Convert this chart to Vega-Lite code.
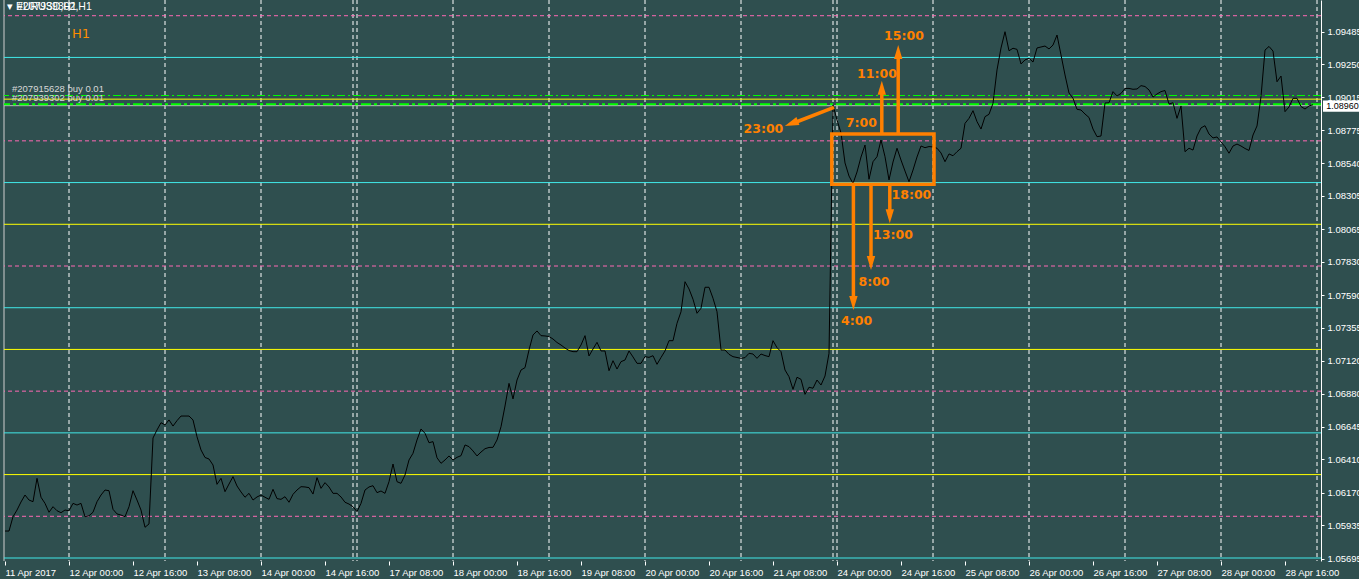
{
 "$schema": "https://vega.github.io/schema/vega-lite/v6.json",
 "width": 1317,
 "height": 561,
 "autosize": {"type": "none"},
 "padding": {"left": 4, "top": 0, "right": 38, "bottom": 18},
 "background": "#2F4F4F",
 "config": {"view": {"stroke": null, "fill": "#2F4F4F"}, "axis": {"labelOverlap": false, "labelBound": false, "labelFlush": false}},
 "datasets": {
  "series": [
   {"bar":0,"price":1.05894},{"bar":1,"price":1.05894},{"bar":2,"price":1.05997},{"bar":3,"price":1.06045},{"bar":4,"price":1.06103},{"bar":5,"price":1.06153},{"bar":6,"price":1.06117},{"bar":7,"price":1.06105},{"bar":8,"price":1.06273},{"bar":9,"price":1.06137},
   {"bar":10,"price":1.06093},{"bar":11,"price":1.06029},{"bar":12,"price":1.06069},{"bar":13,"price":1.0604},{"bar":14,"price":1.06026},{"bar":15,"price":1.06045},{"bar":16,"price":1.0604},{"bar":17,"price":1.06093},{"bar":18,"price":1.06081},{"bar":19,"price":1.06093},
   {"bar":20,"price":1.05997},{"bar":21,"price":1.06004},{"bar":22,"price":1.06029},{"bar":23,"price":1.06105},{"bar":24,"price":1.06153},{"bar":25,"price":1.06189},{"bar":26,"price":1.06184},{"bar":27,"price":1.0605},{"bar":28,"price":1.06017},{"bar":29,"price":1.06009},
   {"bar":30,"price":1.05997},{"bar":31,"price":1.06069},{"bar":32,"price":1.06184},{"bar":33,"price":1.06117},{"bar":34,"price":1.06045},{"bar":35,"price":1.05921},{"bar":36,"price":1.05945},{"bar":37,"price":1.06563},{"bar":38,"price":1.06621},{"bar":39,"price":1.06673},
   {"bar":40,"price":1.06657},{"bar":41,"price":1.06693},{"bar":42,"price":1.06649},{"bar":43,"price":1.06688},{"bar":44,"price":1.06721},{"bar":45,"price":1.06721},{"bar":46,"price":1.06721},{"bar":47,"price":1.06693},{"bar":48,"price":1.06572},{"bar":49,"price":1.06477},
   {"bar":50,"price":1.06423},{"bar":51,"price":1.06412},{"bar":52,"price":1.06369},{"bar":53,"price":1.0623},{"bar":54,"price":1.06273},{"bar":55,"price":1.06177},{"bar":56,"price":1.06232},{"bar":57,"price":1.06285},{"bar":58,"price":1.06218},{"bar":59,"price":1.06175},
   {"bar":60,"price":1.06137},{"bar":61,"price":1.06165},{"bar":62,"price":1.06117},{"bar":63,"price":1.06139},{"bar":64,"price":1.06153},{"bar":65,"price":1.06137},{"bar":66,"price":1.06122},{"bar":67,"price":1.06194},{"bar":68,"price":1.06127},{"bar":69,"price":1.06122},
   {"bar":70,"price":1.06141},{"bar":71,"price":1.06101},{"bar":72,"price":1.06158},{"bar":73,"price":1.06189},{"bar":74,"price":1.06213},{"bar":75,"price":1.06211},{"bar":76,"price":1.06206},{"bar":77,"price":1.0616},{"bar":78,"price":1.06278},{"bar":79,"price":1.06201},
   {"bar":80,"price":1.06242},{"bar":81,"price":1.06211},{"bar":82,"price":1.06165},{"bar":83,"price":1.06165},{"bar":84,"price":1.06139},{"bar":85,"price":1.06101},{"bar":86,"price":1.06088},{"bar":87,"price":1.06069},{"bar":88,"price":1.06033},{"bar":89,"price":1.06093},
   {"bar":90,"price":1.06189},{"bar":91,"price":1.06211},{"bar":92,"price":1.0622},{"bar":93,"price":1.0617},{"bar":94,"price":1.06182},{"bar":95,"price":1.06165},{"bar":96,"price":1.06249},{"bar":97,"price":1.06376},{"bar":98,"price":1.06249},{"bar":99,"price":1.06237},
   {"bar":100,"price":1.06297},{"bar":101,"price":1.06405},{"bar":102,"price":1.06453},{"bar":103,"price":1.06549},{"bar":104,"price":1.06628},{"bar":105,"price":1.06597},{"bar":106,"price":1.06529},{"bar":107,"price":1.06537},{"bar":108,"price":1.06421},{"bar":109,"price":1.06381},
   {"bar":110,"price":1.06405},{"bar":111,"price":1.06434},{"bar":112,"price":1.06405},{"bar":113,"price":1.06424},{"bar":114,"price":1.06436},{"bar":115,"price":1.06513},{"bar":116,"price":1.06501},{"bar":117,"price":1.0647},{"bar":118,"price":1.06434},{"bar":119,"price":1.06462},
   {"bar":120,"price":1.06486},{"bar":121,"price":1.06495},{"bar":122,"price":1.06496},{"bar":123,"price":1.06549},{"bar":124,"price":1.06644},{"bar":125,"price":1.06793},{"bar":126,"price":1.06956},{"bar":127,"price":1.06844},{"bar":128,"price":1.0698},{"bar":129,"price":1.07052},
   {"bar":130,"price":1.07069},{"bar":131,"price":1.07196},{"bar":132,"price":1.07304},{"bar":133,"price":1.07333},{"bar":134,"price":1.07299},{"bar":135,"price":1.07297},{"bar":136,"price":1.07293},{"bar":137,"price":1.07275},{"bar":138,"price":1.0725},{"bar":139,"price":1.07232},
   {"bar":140,"price":1.0721},{"bar":141,"price":1.07192},{"bar":142,"price":1.07184},{"bar":143,"price":1.07184},{"bar":144,"price":1.07232},{"bar":145,"price":1.07299},{"bar":146,"price":1.07153},{"bar":147,"price":1.07203},{"bar":148,"price":1.07251},{"bar":149,"price":1.07189},
   {"bar":150,"price":1.07189},{"bar":151,"price":1.07047},{"bar":152,"price":1.07119},{"bar":153,"price":1.07059},{"bar":154,"price":1.07112},{"bar":155,"price":1.07124},{"bar":156,"price":1.07189},{"bar":157,"price":1.07146},{"bar":158,"price":1.071},{"bar":159,"price":1.071},
   {"bar":160,"price":1.07148},{"bar":161,"price":1.07143},{"bar":162,"price":1.07155},{"bar":163,"price":1.07093},{"bar":164,"price":1.07142},{"bar":165,"price":1.07189},{"bar":166,"price":1.07263},{"bar":167,"price":1.07263},{"bar":168,"price":1.07388},{"bar":169,"price":1.07471},
   {"bar":170,"price":1.07687},{"bar":171,"price":1.07635},{"bar":172,"price":1.07561},{"bar":173,"price":1.0746},{"bar":174,"price":1.07496},{"bar":175,"price":1.07647},{"bar":176,"price":1.07647},{"bar":177,"price":1.07568},{"bar":178,"price":1.07471},{"bar":179,"price":1.07196},
   {"bar":180,"price":1.07196},{"bar":181,"price":1.07165},{"bar":182,"price":1.07148},{"bar":183,"price":1.07142},{"bar":184,"price":1.07136},{"bar":185,"price":1.07141},{"bar":186,"price":1.07172},{"bar":187,"price":1.07167},{"bar":188,"price":1.07136},{"bar":189,"price":1.07167},
   {"bar":190,"price":1.07156},{"bar":191,"price":1.07148},{"bar":192,"price":1.07263},{"bar":193,"price":1.07213},{"bar":194,"price":1.07184},{"bar":195,"price":1.07052},{"bar":196,"price":1.07004},{"bar":197,"price":1.06913},{"bar":198,"price":1.07},{"bar":199,"price":1.06985},
   {"bar":200,"price":1.06877},{"bar":201,"price":1.06928},{"bar":202,"price":1.06921},{"bar":203,"price":1.0698},{"bar":204,"price":1.06944},{"bar":205,"price":1.07009},{"bar":206,"price":1.07172},{"bar":207,"price":1.08958},{"bar":208,"price":1.0885},{"bar":209,"price":1.08757},
   {"bar":210,"price":1.08541},{"bar":211,"price":1.08447},{"bar":212,"price":1.08393},{"bar":213,"price":1.08476},{"bar":214,"price":1.08584},{"bar":215,"price":1.0867},{"bar":216,"price":1.08424},{"bar":217,"price":1.0855},{"bar":218,"price":1.08586},{"bar":219,"price":1.08706},
   {"bar":220,"price":1.08586},{"bar":221,"price":1.08419},{"bar":222,"price":1.08548},{"bar":223,"price":1.08647},{"bar":224,"price":1.08562},{"bar":225,"price":1.08483},{"bar":226,"price":1.08406},{"bar":227,"price":1.0849},{"bar":228,"price":1.08584},{"bar":229,"price":1.08663},
   {"bar":230,"price":1.08651},{"bar":231,"price":1.08659},{"bar":232,"price":1.08656},{"bar":233,"price":1.08647},{"bar":234,"price":1.08613},{"bar":235,"price":1.0855},{"bar":236,"price":1.08606},{"bar":237,"price":1.08593},{"bar":238,"price":1.08622},{"bar":239,"price":1.08647},
   {"bar":240,"price":1.08826},{"bar":241,"price":1.08862},{"bar":242,"price":1.08917},{"bar":243,"price":1.08838},{"bar":244,"price":1.08785},{"bar":245,"price":1.08874},{"bar":246,"price":1.08891},{"bar":247,"price":1.0897},{"bar":248,"price":1.0921},{"bar":249,"price":1.09368},
   {"bar":250,"price":1.09485},{"bar":251,"price":1.09348},{"bar":252,"price":1.09366},{"bar":253,"price":1.09358},{"bar":254,"price":1.09253},{"bar":255,"price":1.09282},{"bar":256,"price":1.09294},{"bar":257,"price":1.09267},{"bar":258,"price":1.09368},{"bar":259,"price":1.09375},
   {"bar":260,"price":1.09382},{"bar":261,"price":1.09361},{"bar":262,"price":1.09389},{"bar":263,"price":1.09461},{"bar":264,"price":1.09318},{"bar":265,"price":1.09174},{"bar":266,"price":1.09044},{"bar":267,"price":1.09006},{"bar":268,"price":1.08927},{"bar":269,"price":1.08922},
   {"bar":270,"price":1.08893},{"bar":271,"price":1.08868},{"bar":272,"price":1.08785},{"bar":273,"price":1.0873},{"bar":274,"price":1.08735},{"bar":275,"price":1.08972},{"bar":276,"price":1.08974},{"bar":277,"price":1.09054},{"bar":278,"price":1.09023},{"bar":279,"price":1.09041},
   {"bar":280,"price":1.09077},{"bar":281,"price":1.09077},{"bar":282,"price":1.09071},{"bar":283,"price":1.09073},{"bar":284,"price":1.09097},{"bar":285,"price":1.09091},{"bar":286,"price":1.09066},{"bar":287,"price":1.09015},{"bar":288,"price":1.09037},{"bar":289,"price":1.09054},
   {"bar":290,"price":1.09062},{"bar":291,"price":1.08965},{"bar":292,"price":1.08974},{"bar":293,"price":1.08862},{"bar":294,"price":1.08951},{"bar":295,"price":1.08622},{"bar":296,"price":1.08647},{"bar":297,"price":1.08634},{"bar":298,"price":1.08735},{"bar":299,"price":1.08793},
   {"bar":300,"price":1.08809},{"bar":301,"price":1.08749},{"bar":302,"price":1.08721},{"bar":303,"price":1.08728},{"bar":304,"price":1.08692},{"bar":305,"price":1.08658},{"bar":306,"price":1.08611},{"bar":307,"price":1.08663},{"bar":308,"price":1.08677},{"bar":309,"price":1.08663},
   {"bar":310,"price":1.08645},{"bar":311,"price":1.08631},{"bar":312,"price":1.08742},{"bar":313,"price":1.08807},{"bar":314,"price":1.09018},{"bar":315,"price":1.09353},{"bar":316,"price":1.09379},{"bar":317,"price":1.09346},{"bar":318,"price":1.09125},{"bar":319,"price":1.09166},
   {"bar":320,"price":1.0891},{"bar":321,"price":1.08944},{"bar":322,"price":1.09006},{"bar":323,"price":1.09006},{"bar":324,"price":1.08947},{"bar":325,"price":1.08929},{"bar":326,"price":1.08951},{"bar":327,"price":1.0896}
  ],
  "vgrid": [{"bar":16},{"bar":40},{"bar":64},{"bar":87},{"bar":88},{"bar":112},{"bar":136},{"bar":160},{"bar":184},{"bar":207},{"bar":208},{"bar":232},{"bar":256},{"bar":280},{"bar":304},{"bar":328}],
  "levels": [
   {"price":1.057,"set":"a"},{"price":1.060,"set":"b"},{"price":1.063,"set":"c"},
   {"price":1.066,"set":"a"},{"price":1.069,"set":"b"},{"price":1.072,"set":"c"},
   {"price":1.075,"set":"a"},{"price":1.078,"set":"b"},{"price":1.081,"set":"c"},
   {"price":1.084,"set":"a"},{"price":1.087,"set":"b"},{"price":1.090,"set":"c"},
   {"price":1.093,"set":"a"},{"price":1.096,"set":"b"}
  ],
  "orders": [
   {"order":"#207915628","price":1.09026},
   {"order":"#207939302","price":1.08963}
  ],
  "bid": [{"price":1.08953,"bar":329.5,"bar2":338.75,"top":1.0899,"bottom":1.0891,"label":"1.08960","tbar":330.3,"tprice":1.08952}],
  "notes": [
   {"kind":"title","label":"\u25be EURUSD,H1","bar":0.5,"price":1.09663},
   {"kind":"title","label":"#207939302,H1","bar":3,"price":1.09663},
   {"kind":"order","label":"#207915628 buy 0.01","bar":1.75,"price":1.09071},
   {"kind":"order","label":"#207939302 buy 0.01","bar":1.75,"price":1.09006},
   {"kind":"h1","label":"H1","bar":16.75,"price":1.09469},
   {"kind":"anno","label":"23:00","bar":189.6,"price":1.08785},
   {"kind":"anno","label":"7:00","bar":214.1,"price":1.08828},
   {"kind":"anno","label":"11:00","bar":218,"price":1.09181},
   {"kind":"anno","label":"15:00","bar":224.75,"price":1.09454},
   {"kind":"anno","label":"18:00","bar":226.6,"price":1.08311},
   {"kind":"anno","label":"13:00","bar":222,"price":1.08023},
   {"kind":"anno","label":"8:00","bar":217.25,"price":1.07685},
   {"kind":"anno","label":"4:00","bar":212.9,"price":1.07405}
  ],
  "box": [{"bar":206.7,"bar2":232.25,"price":1.08749,"price2":1.08388}],
  "arrows": [
   {"bar":207.25,"price":1.08941,"bar2":197.5,"price2":1.08832},
   {"bar":219.2,"price":1.08749,"bar2":219.2,"price2":1.09037},
   {"bar":223.3,"price":1.08749,"bar2":223.3,"price2":1.09296},
   {"bar":212.1,"price":1.08383,"bar2":212.1,"price2":1.07577},
   {"bar":216.5,"price":1.08383,"bar2":216.5,"price2":1.07865},
   {"bar":221.2,"price":1.08383,"bar2":221.2,"price2":1.08203}
  ],
  "heads": [
   {"dir":"up","bar":219.2,"price":1.09082},
   {"dir":"up","bar":223.3,"price":1.09339},
   {"dir":"down","bar":212.1,"price":1.07534},
   {"dir":"down","bar":216.5,"price":1.07822},
   {"dir":"down","bar":221.2,"price":1.08158},
   {"dir":"diag","bar":196.6,"price":1.08825}
  ],
  "edge": [{"bar":-0.25}]
 },
 "layer": [
  {
   "data": {"name": "series"},
   "mark": {"type": "line", "color": "#000000", "strokeWidth": 0, "opacity": 0},
   "encoding": {
    "x": {"field": "bar", "type": "quantitative", "scale": {"domain": [-0.25, 329], "nice": false, "zero": false},
     "axis": {"orient": "bottom", "values": [0,16,32,48,64,80,96,112,128,144,160,176,192,208,224,240,256,272,288,304,320], "tickCount": 60,
      "labelExpr": "['11 Apr 2017','12 Apr 00:00','12 Apr 16:00','13 Apr 08:00','14 Apr 00:00','14 Apr 16:00','17 Apr 08:00','18 Apr 00:00','18 Apr 16:00','19 Apr 08:00','20 Apr 00:00','20 Apr 16:00','21 Apr 08:00','24 Apr 00:00','24 Apr 16:00','25 Apr 08:00','26 Apr 00:00','26 Apr 16:00','27 Apr 08:00','28 Apr 00:00','28 Apr 16:00'][round(datum.value/16)]",
      "labelAlign": "left", "labelBaseline": "top", "labelFont": "Liberation Sans", "labelFontSize": 9.5, "labelColor": "#FFFFFF", "labelPadding": 2,
      "labelOverlap": false, "labelFlush": false, "labelBound": false, "ticks": true, "tickColor": "#FFFFFF", "tickSize": 4, "domain": false, "grid": false, "title": null}},
    "y": {"field": "price", "type": "quantitative", "scale": {"domain": [1.056785, 1.09713], "nice": false, "zero": false},
     "axis": {"orient": "right", "values": [1.05695,1.05935,1.0617,1.0641,1.06645,1.0688,1.0712,1.07355,1.0759,1.0783,1.08065,1.08305,1.0854,1.08775,1.09015,1.0925,1.09485], "tickCount": 60,
      "format": ".5f", "labelAlign": "left", "labelBaseline": "middle", "labelFont": "Liberation Sans", "labelFontSize": 9.5, "labelColor": "#FFFFFF", "labelPadding": 3,
      "labelOverlap": false, "labelBound": false, "labelFlush": false, "tickColor": "#FFFFFF", "tickSize": 3, "domainColor": "#FFFFFF", "grid": false, "title": null}}
   }
  },
  {
   "data": {"name": "vgrid"},
   "mark": {"type": "rule", "color": "#FFFFFF", "strokeWidth": 1, "strokeDash": [4, 3]},
   "encoding": {"x": {"field": "bar", "type": "quantitative"}}
  },
  {
   "data": {"name": "edge"},
   "mark": {"type": "rule", "color": "#D0D0D0", "strokeWidth": 1},
   "encoding": {"x": {"field": "bar", "type": "quantitative"}}
  },
  {
   "data": {"name": "levels"},
   "transform": [{"filter": "datum.set === 'a'"}],
   "mark": {"type": "rule", "color": "#40E8E8", "strokeWidth": 1},
   "encoding": {"y": {"field": "price", "type": "quantitative"}}
  },
  {
   "data": {"name": "levels"},
   "transform": [{"filter": "datum.set === 'b'"}],
   "mark": {"type": "rule", "color": "#FF69B4", "strokeWidth": 1, "strokeDash": [4, 3]},
   "encoding": {"y": {"field": "price", "type": "quantitative"}}
  },
  {
   "data": {"name": "levels"},
   "transform": [{"filter": "datum.set === 'c'"}],
   "mark": {"type": "rule", "color": "#FFFF00", "strokeWidth": 1},
   "encoding": {"y": {"field": "price", "type": "quantitative"}}
  },
  {
   "data": {"name": "bid"},
   "mark": {"type": "rule", "color": "#C0C0C0", "strokeWidth": 1},
   "encoding": {"y": {"field": "price", "type": "quantitative"}}
  },
  {
   "data": {"name": "orders"},
   "transform": [{"filter": "datum.order === '#207915628'"}],
   "mark": {"type": "rule", "color": "#00FF00", "strokeWidth": 1, "strokeDash": [8, 3, 2, 3]},
   "encoding": {"y": {"field": "price", "type": "quantitative"}}
  },
  {
   "data": {"name": "orders"},
   "transform": [{"filter": "datum.order === '#207939302'"}],
   "mark": {"type": "rule", "color": "#00FF00", "strokeWidth": 2, "strokeDash": [10, 3, 3, 3]},
   "encoding": {"y": {"field": "price", "type": "quantitative"}}
  },
  {
   "data": {"name": "series"},
   "mark": {"type": "line", "color": "#000000", "strokeWidth": 1},
   "encoding": {
    "x": {"field": "bar", "type": "quantitative"},
    "y": {"field": "price", "type": "quantitative"}
   }
  },
  {
   "data": {"name": "notes"},
   "transform": [{"filter": "datum.kind === 'title'"}],
   "mark": {"type": "text", "align": "left", "baseline": "middle", "font": "Liberation Sans", "fontSize": 10.5, "color": "#FFFFFF"},
   "encoding": {
    "x": {"field": "bar", "type": "quantitative"},
    "y": {"field": "price", "type": "quantitative"},
    "text": {"field": "label"}
   }
  },
  {
   "data": {"name": "notes"},
   "transform": [{"filter": "datum.kind === 'order'"}],
   "mark": {"type": "text", "align": "left", "baseline": "middle", "font": "Liberation Sans", "fontSize": 9.5, "color": "#D8D8D8"},
   "encoding": {
    "x": {"field": "bar", "type": "quantitative"},
    "y": {"field": "price", "type": "quantitative"},
    "text": {"field": "label"}
   }
  },
  {
   "data": {"name": "notes"},
   "transform": [{"filter": "datum.kind === 'h1'"}],
   "mark": {"type": "text", "align": "left", "baseline": "middle", "font": "DejaVu Sans", "fontSize": 13, "color": "#FF8C00"},
   "encoding": {
    "x": {"field": "bar", "type": "quantitative"},
    "y": {"field": "price", "type": "quantitative"},
    "text": {"field": "label"}
   }
  },
  {
   "data": {"name": "box"},
   "mark": {"type": "rect", "filled": false, "color": "#FF8000", "stroke": "#FF8000", "strokeWidth": 3.5},
   "encoding": {
    "x": {"field": "bar", "type": "quantitative"},
    "x2": {"field": "bar2"},
    "y": {"field": "price", "type": "quantitative"},
    "y2": {"field": "price2"}
   }
  },
  {
   "data": {"name": "arrows"},
   "mark": {"type": "rule", "color": "#FF8000", "strokeWidth": 3.5},
   "encoding": {
    "x": {"field": "bar", "type": "quantitative"},
    "x2": {"field": "bar2"},
    "y": {"field": "price", "type": "quantitative"},
    "y2": {"field": "price2"}
   }
  },
  {
   "data": {"name": "heads"},
   "transform": [{"filter": "datum.dir === 'up'"}],
   "mark": {"type": "point", "shape": "M0,-1L0.6,1L-0.6,1Z", "size": 196, "filled": true, "color": "#FF8000", "opacity": 1},
   "encoding": {
    "x": {"field": "bar", "type": "quantitative"},
    "y": {"field": "price", "type": "quantitative"}
   }
  },
  {
   "data": {"name": "heads"},
   "transform": [{"filter": "datum.dir === 'down'"}],
   "mark": {"type": "point", "shape": "M0,1L0.6,-1L-0.6,-1Z", "size": 196, "filled": true, "color": "#FF8000", "opacity": 1},
   "encoding": {
    "x": {"field": "bar", "type": "quantitative"},
    "y": {"field": "price", "type": "quantitative"}
   }
  },
  {
   "data": {"name": "heads"},
   "transform": [{"filter": "datum.dir === 'diag'"}],
   "mark": {"type": "point", "shape": "M0,-1L0.6,1L-0.6,1Z", "size": 196, "filled": true, "color": "#FF8000", "opacity": 1, "angle": 249},
   "encoding": {
    "x": {"field": "bar", "type": "quantitative"},
    "y": {"field": "price", "type": "quantitative"}
   }
  },
  {
   "data": {"name": "notes"},
   "transform": [{"filter": "datum.kind === 'anno'"}],
   "mark": {"type": "text", "align": "center", "baseline": "middle", "font": "DejaVu Sans", "fontSize": 12.5, "fontWeight": "bold", "color": "#FF8000"},
   "encoding": {
    "x": {"field": "bar", "type": "quantitative"},
    "y": {"field": "price", "type": "quantitative"},
    "text": {"field": "label"}
   }
  },
  {
   "data": {"name": "bid"},
   "mark": {"type": "rect", "color": "#FFFFFF", "opacity": 1},
   "encoding": {
    "x": {"field": "bar", "type": "quantitative"},
    "x2": {"field": "bar2"},
    "y": {"field": "top", "type": "quantitative"},
    "y2": {"field": "bottom"}
   }
  },
  {
   "data": {"name": "bid"},
   "mark": {"type": "text", "align": "left", "baseline": "middle", "font": "Liberation Sans", "fontSize": 9, "color": "#000000"},
   "encoding": {
    "x": {"field": "tbar", "type": "quantitative"},
    "y": {"field": "tprice", "type": "quantitative"},
    "text": {"field": "label"}
   }
  }
 ]
}
